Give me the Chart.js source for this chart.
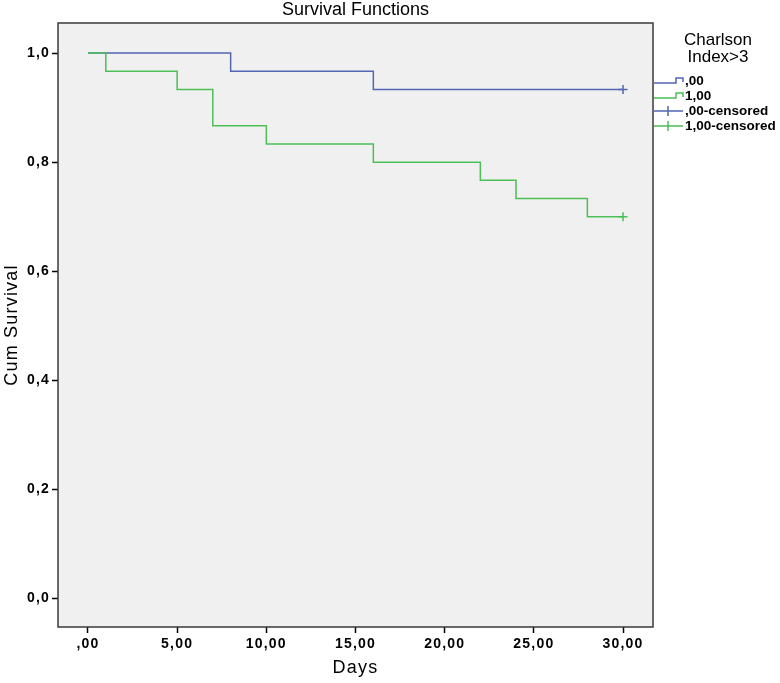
<!DOCTYPE html>
<html>
<head>
<meta charset="utf-8">
<script src="https://cdn.jsdelivr.net/npm/chart.js@4"></script>
<style>
  html, body { margin: 0; padding: 0; background: #fff; }
  #wrap { width: 780px; height: 683px; position: relative; }
</style>
</head>
<body>
<div id="wrap"><canvas id="survivalChart"></canvas></div>
<script>
// Kaplan-Meier steps, Charlson Index>3 = ,00 / 1,00
const days0 = [0, 8, 16, 30];
const surv0 = [1.0, 0.9667, 0.9333, 0.9333];
const days1 = [0, 1, 5, 7, 10, 16, 22, 24, 28, 30];
const surv1 = [1.0, 0.9667, 0.9333, 0.8667, 0.8333, 0.8, 0.7667, 0.7333, 0.7, 0.7];
const censorDays0 = [30];
const censorSurv0 = [0.9333];
const censorDays1 = [30];
const censorSurv1 = [0.7];

const xTicks = [0, 5, 10, 15, 20, 25, 30];
const xTickLabels = [',00', '5,00', '10,00', '15,00', '20,00', '25,00', '30,00'];
const yTicks = [0, 0.2, 0.4, 0.6, 0.8, 1.0];
const yTickLabels = ['0,0', '0,2', '0,4', '0,6', '0,8', '1,0'];
const legendTitle = ['Charlson', 'Index>3'];
const legendLabels = [',00', '1,00', ',00-censored', '1,00-censored'];

const FONT = "'Liberation Sans', Arial, sans-serif";
const BLUE = '#5266b2';
const GREEN = '#4cbf55';

const toPoints = (xs, ys) => xs.map((x, i) => ({ x: x, y: ys[i] }));

const framePlugin = {
    id: 'frame',
    beforeDraw(chart) {
        const { ctx, chartArea: a } = chart;
        ctx.save();
        ctx.fillStyle = '#f0f0f0';
        ctx.fillRect(a.left, a.top, a.right - a.left, a.bottom - a.top);
        ctx.restore();
        ctx.letterSpacing = '1.2px';
    },
    afterDraw(chart) {
        const { ctx, chartArea: a } = chart;
        ctx.save();
        ctx.letterSpacing = '0px';
        ctx.strokeStyle = '#3a3a3a';
        ctx.lineWidth = 1.5;
        ctx.strokeRect(a.left, a.top, a.right - a.left, a.bottom - a.top);

        // chart title
        ctx.fillStyle = '#000';
        ctx.textAlign = 'center';
        ctx.textBaseline = 'middle';
        ctx.font = '18px ' + FONT;
        ctx.fillText('Survival Functions', (a.left + a.right) / 2, 10);

        // legend title
        ctx.font = '17px ' + FONT;
        ctx.fillText(legendTitle[0], 718, 40);
        ctx.fillText(legendTitle[1], 718, 57);

        // legend items
        const colors = [BLUE, GREEN, BLUE, GREEN];
        const ys = [81, 96, 111, 126];
        const x0 = 654, x1 = 683;
        ctx.lineWidth = 1.5;
        ctx.textAlign = 'left';
        ctx.font = 'bold 13.5px ' + FONT;
        legendLabels.forEach((label, i) => {
            const y = ys[i];
            ctx.strokeStyle = colors[i];
            ctx.beginPath();
            if (i < 2) {
                ctx.moveTo(x0, y + 2);
                ctx.lineTo(x0 + 22, y + 2);
                ctx.lineTo(x0 + 22, y - 3);
                ctx.lineTo(x1, y - 3);
                ctx.lineTo(x1, y + 1);
            } else {
                ctx.moveTo(x0, y);
                ctx.lineTo(x1, y);
                ctx.moveTo(x0 + 14, y - 5);
                ctx.lineTo(x0 + 14, y + 5);
            }
            ctx.stroke();
            ctx.fillStyle = '#000';
            ctx.fillText(label, 685, y);
        });
        ctx.restore();
    }
};

const ctx = document.getElementById('survivalChart').getContext('2d');
new Chart(ctx, {
    type: 'scatter',
    data: {
        datasets: [
            {
                label: '1,00',
                data: toPoints(days1, surv1),
                showLine: true,
                stepped: true,
                borderColor: GREEN,
                borderWidth: 1.5,
                pointRadius: 0
            },
            {
                label: ',00',
                data: toPoints(days0, surv0),
                showLine: true,
                stepped: true,
                borderColor: BLUE,
                borderWidth: 1.5,
                pointRadius: 0
            },
            {
                label: ',00-censored',
                data: toPoints(censorDays0, censorSurv0),
                pointStyle: 'cross',
                pointRadius: 4.5,
                borderWidth: 1.5,
                borderColor: BLUE
            },
            {
                label: '1,00-censored',
                data: toPoints(censorDays1, censorSurv1),
                pointStyle: 'cross',
                pointRadius: 4.5,
                borderWidth: 1.5,
                borderColor: GREEN
            }
        ]
    },
    options: {
        responsive: true,
        maintainAspectRatio: false,
        animation: false,
        layout: { padding: { left: 0, right: 127, top: 23, bottom: 0 } },
        plugins: {
            legend: { display: false },
            title: { display: false },
            tooltip: { enabled: false }
        },
        scales: {
            x: {
                type: 'linear',
                min: -1.68,
                max: 31.68,
                afterBuildTicks: (scale) => { scale.ticks = xTicks.map(v => ({ value: v })); },
                afterFit: (scale) => { scale.height = 56; },
                grid: { drawOnChartArea: false, drawTicks: true, tickLength: 6, tickColor: '#000', tickWidth: 1.5 },
                border: { display: false },
                ticks: {
                    autoSkip: false,
                    maxRotation: 0,
                    padding: 3,
                    color: '#000',
                    font: { family: FONT, size: 14, weight: 'bold' },
                    callback: (value) => {
                        const i = xTicks.indexOf(value);
                        return i >= 0 ? xTickLabels[i] : '';
                    }
                },
                title: {
                    display: true,
                    text: 'Days',
                    color: '#000',
                    font: { family: FONT, size: 18 },
                    padding: { top: 4, bottom: 4 }
                }
            },
            y: {
                type: 'linear',
                min: -0.052,
                max: 1.055,
                afterBuildTicks: (scale) => { scale.ticks = yTicks.map(v => ({ value: v })); },
                afterFit: (scale) => { scale.width = 58; },
                grid: { drawOnChartArea: false, drawTicks: true, tickLength: 6, tickColor: '#000', tickWidth: 1.5 },
                border: { display: false },
                ticks: {
                    autoSkip: false,
                    padding: 2,
                    color: '#000',
                    font: { family: FONT, size: 14, weight: 'bold' },
                    callback: (value) => {
                        const i = yTicks.indexOf(value);
                        return i >= 0 ? yTickLabels[i] : '';
                    }
                },
                title: {
                    display: true,
                    text: 'Cum Survival',
                    color: '#000',
                    font: { family: FONT, size: 18 },
                    padding: { top: 1, bottom: 0 }
                }
            }
        }
    },
    plugins: [framePlugin]
});
</script>
</body>
</html>
